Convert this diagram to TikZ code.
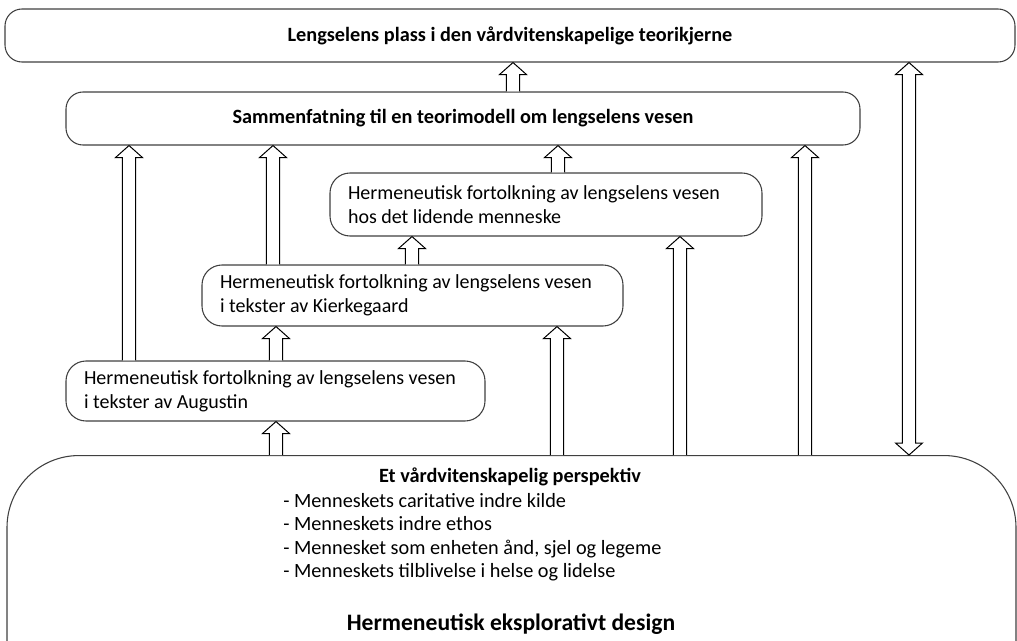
\documentclass[tikz,border=0pt]{standalone}
\usepackage{fontspec}
\setmainfont{Carlito}
\usepackage{tikz}
\usetikzlibrary{calc}
\definecolor{boxLine}{RGB}{64,64,64}
\tikzset{
  box/.style={draw=boxLine, line width=0.8pt, rounded corners=15pt, fill=white,
    font=\fontsize{15.2}{18}\selectfont},
  headbox/.style={box, rounded corners=12.75pt, minimum height=39.75pt, font=\fontsize{15.2}{18}\selectfont\bfseries},
  textbox/.style={box, align=flush left, inner xsep=13.5pt, font=\fontsize{15}{18}\selectfont},
  hollow/.style={draw=black, line width=0.75pt, fill=white, line join=miter}
}
% hollow block arrows between two anchors
\newcommand{\hollowup}[2]{%
  \draw[hollow] let \p1=(#1), \p2=(#2) in
    (\x1-4.9pt,\y1) -- (\x1-4.9pt,\y2-9pt) -- (\x1-10.1pt,\y2-9pt) -- (\x1,\y2)
    -- (\x1+10.1pt,\y2-9pt) -- (\x1+4.9pt,\y2-9pt) -- (\x1+4.9pt,\y1);}
\newcommand{\hollowboth}[2]{%
  \draw[hollow] let \p1=(#1), \p2=(#2) in
    (\x1,\y1) -- (\x1-10.1pt,\y1+9pt) -- (\x1-4.9pt,\y1+9pt) -- (\x1-4.9pt,\y2-9pt)
    -- (\x1-10.1pt,\y2-9pt) -- (\x1,\y2) -- (\x1+10.1pt,\y2-9pt) -- (\x1+4.9pt,\y2-9pt)
    -- (\x1+4.9pt,\y1+9pt) -- (\x1+10.1pt,\y1+9pt) -- cycle;}

\begin{document}
\begin{tikzpicture}[x=0.75pt, y=-0.75pt]
  \clip (0,0) rectangle (1017,640);

  \node[headbox, minimum width=757.5pt] (top) at (510,35.5) {Lengselens plass i den vårdvitenskapelige teorikjerne};
  \node[headbox, minimum width=595.5pt] (sam) at (463,118.5) {Sammenfatning til en teorimodell om lengselens vesen};
  \node[textbox, text width=297pt, minimum height=47.25pt] (lid) at (546,204.5)
    {Hermeneutisk fortolkning av lengselens vesen\\hos det lidende menneske};
  \node[textbox, text width=288.75pt, minimum height=45.75pt] (kie) at (412.5,295.5)
    {Hermeneutisk fortolkning av lengselens vesen\\i tekster av Kierkegaard};
  \node[textbox, text width=287.25pt, minimum height=45pt] (aug) at (275.5,391)
    {Hermeneutisk fortolkning av lengselens vesen\\i tekster av Augustin};
  \node[box, rounded corners=54pt, minimum width=756.75pt, minimum height=225pt, anchor=north] (base) at (511.5,455) {};

  \node[font=\fontsize{15.2}{18}\selectfont\bfseries] (pers) at (510,477) {Et vårdvitenskapelig perspektiv};
  \node[font=\fontsize{15.2}{17.6}\selectfont, align=left, anchor=north west, inner sep=0pt] (list) at (283,493)
    {- Menneskets caritative indre kilde\\- Menneskets indre ethos\\- Mennesket som enheten ånd, sjel og legeme\\- Menneskets tilblivelse i helse og lidelse};
  \node[font=\fontsize{17.7}{21}\selectfont\bfseries] (design) at (511,624) {Hermeneutisk eksplorativt design};

  \coordinate (c1) at (129,0);
  \coordinate (c2) at (273,0);
  \coordinate (c3) at (558,0);
  \coordinate (c4) at (805,0);
  \coordinate (c5) at (909,0);
  \coordinate (c6) at (513,0);
  \coordinate (c7) at (412,0);
  \coordinate (c8) at (276,0);
  \coordinate (c9) at (557,0);
  \coordinate (c10) at (680,0);

  \hollowup{aug.north -| c1}{sam.south -| c1}
  \hollowup{kie.north -| c2}{sam.south -| c2}
  \hollowup{lid.north -| c3}{sam.south -| c3}
  \hollowup{base.north -| c4}{sam.south -| c4}
  \hollowup{sam.north -| c6}{top.south -| c6}
  \hollowup{kie.north -| c7}{lid.south -| c7}
  \hollowup{aug.north -| c8}{kie.south -| c8}
  \hollowup{base.north -| c8}{aug.south -| c8}
  \hollowup{base.north -| c9}{kie.south -| c9}
  \hollowup{base.north -| c10}{lid.south -| c10}
  \hollowboth{base.north -| c5}{top.south -| c5}
\end{tikzpicture}
\end{document}
